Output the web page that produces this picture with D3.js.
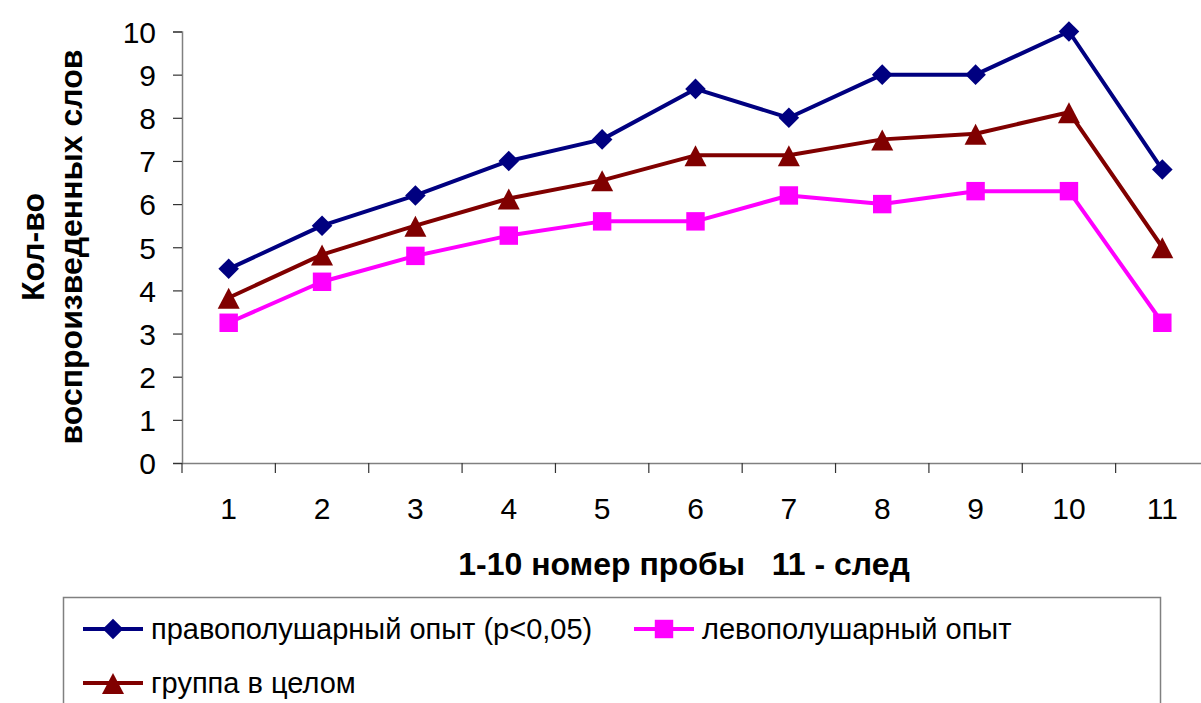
<!DOCTYPE html>
<html>
<head>
<meta charset="utf-8">
<script src="https://cdn.jsdelivr.net/npm/d3@7"></script>
<style>
  html, body { margin: 0; padding: 0; background: #fff; }
  svg { display: block; font-family: "Liberation Sans", Arial, sans-serif; }
</style>
</head>
<body>
<svg id="chart" width="1201" height="703"></svg>
<script>
// Trial numbers (1–10) and the trace trial (11)
const categories = ["1", "2", "3", "4", "5", "6", "7", "8", "9", "10", "11"];

// Mean number of recalled words per trial
const rightHemisphere = [4.5, 5.5, 6.2, 7.0, 7.5, 8.67, 8.0, 9.0, 9.0, 10.0, 6.8];
const leftHemisphere  = [3.25, 4.2, 4.8, 5.27, 5.6, 5.6, 6.2, 6.0, 6.3, 6.3, 3.25];
const groupOverall    = [3.83, 4.83, 5.5, 6.13, 6.55, 7.13, 7.13, 7.5, 7.63, 8.13, 5.0];

const yTicks = [0, 1, 2, 3, 4, 5, 6, 7, 8, 9, 10];

const seriesNames = [
  "правополушарный опыт (p<0,05)",
  "левополушарный опыт",
  "группа в целом"
];

const series = [
  { name: seriesNames[0], values: rightHemisphere, color: "#000080", marker: "diamond" },
  { name: seriesNames[1], values: leftHemisphere,  color: "#FF00FF", marker: "square" },
  { name: seriesNames[2], values: groupOverall,    color: "#800000", marker: "triangle" }
];

const svg = d3.select("#chart");
const plot = { left: 182, right: 1209, top: 31.5, bottom: 463 };

const x = d3.scaleBand().domain(categories).range([plot.left, plot.right]).padding(0);
const y = d3.scaleLinear().domain([0, 10]).range([plot.bottom, plot.top]);

const axisColor = "#808080";
const font = "Liberation Sans, Arial, sans-serif";

// Y axis
const yAxis = svg.append("g")
  .attr("transform", `translate(${plot.left},0)`)
  .call(d3.axisLeft(y).tickValues(yTicks).tickSize(9).tickPadding(17).tickFormat(d3.format("d")));
yAxis.select(".domain").attr("stroke", axisColor).attr("stroke-width", 1.5);
yAxis.selectAll(".tick line").attr("stroke", "#333").attr("stroke-width", 1.2);
yAxis.selectAll(".tick text")
  .attr("fill", "#000")
  .attr("dy", "0.36em")
  .style("font-size", "30px")
  .style("font-family", font);

// X axis baseline and category labels
const xAxis = svg.append("g")
  .attr("transform", `translate(0,${plot.bottom})`)
  .call(d3.axisBottom(x).tickSize(0).tickPadding(34));
xAxis.select(".domain").attr("stroke", axisColor).attr("stroke-width", 1.5);
xAxis.selectAll(".tick text")
  .attr("fill", "#000")
  .attr("y", 56).attr("dy", 0)
  .style("font-size", "30px")
  .style("font-family", font);

// Tick marks between categories
const boundaries = categories.map(c => x(c)).concat([x(categories[categories.length - 1]) + x.bandwidth()]);
svg.append("g").selectAll("line")
  .data(boundaries)
  .join("line")
  .attr("x1", d => d).attr("x2", d => d)
  .attr("y1", plot.bottom).attr("y2", plot.bottom + 10)
  .attr("stroke", "#333").attr("stroke-width", 1.2);

// Axis titles
svg.append("text")
  .attr("x", 684).attr("y", 575)
  .attr("text-anchor", "middle")
  .style("font-size", "32px").style("font-weight", "bold")
  .attr("xml:space", "preserve")
  .text("1-10 номер пробы   11 - след");

const yTitle = svg.append("text")
  .attr("transform", "translate(0,247) rotate(-90)")
  .attr("text-anchor", "middle")
  .style("font-size", "32px").style("font-weight", "bold");
yTitle.append("tspan").attr("x", 0).attr("y", 44).text("Кол-во");
yTitle.append("tspan").attr("x", 0).attr("y", 82).text("воспроизведенных слов");

// Marker shapes
const triangleShape = { draw(ctx) {
  ctx.moveTo(0, -10); ctx.lineTo(11, 11); ctx.lineTo(-11, 11); ctx.closePath();
} };
function markerPath(type) {
  if (type === "diamond") return d3.symbol().type(d3.symbolDiamond2).size(270)();
  if (type === "square") return d3.symbol().type(d3.symbolSquare).size(340)();
  return d3.symbol().type(triangleShape)();
}

const cx = c => x(c) + x.bandwidth() / 2;

const line = d3.line()
  .x((d, i) => cx(categories[i]))
  .y(d => y(d));

// Draw series: lines then markers
series.slice().reverse().forEach(s => {
  svg.append("path")
    .datum(s.values)
    .attr("fill", "none")
    .attr("stroke", s.color)
    .attr("stroke-width", 4)
    .attr("stroke-linejoin", "round")
    .attr("d", line);
});
series.slice().reverse().forEach(s => {
  svg.append("g").selectAll("path")
    .data(s.values)
    .join("path")
    .attr("d", markerPath(s.marker))
    .attr("transform", (d, i) => `translate(${cx(categories[i])},${y(d)})`)
    .attr("fill", s.color);
});

// Legend
const legend = svg.append("g");
legend.append("rect")
  .attr("x", 63.5).attr("y", 597.5)
  .attr("width", 1097).attr("height", 120)
  .attr("fill", "#fff").attr("stroke", axisColor).attr("stroke-width", 1.5);

const legendPos = [
  { x: 83, y: 629 },
  { x: 634, y: 629 },
  { x: 83, y: 683 }
];
series.forEach((s, i) => {
  const p = legendPos[i];
  const g = legend.append("g").attr("transform", `translate(${p.x},${p.y})`);
  g.append("line").attr("x1", 0).attr("x2", 60).attr("y1", 0).attr("y2", 0)
    .attr("stroke", s.color).attr("stroke-width", 4);
  g.append("path").attr("d", markerPath(s.marker))
    .attr("transform", "translate(30,0)")
    .attr("fill", s.color);
  g.append("text").attr("x", 68).attr("y", 10)
    .style("font-size", "29px")
    .text(s.name);
});
</script>
</body>
</html>
